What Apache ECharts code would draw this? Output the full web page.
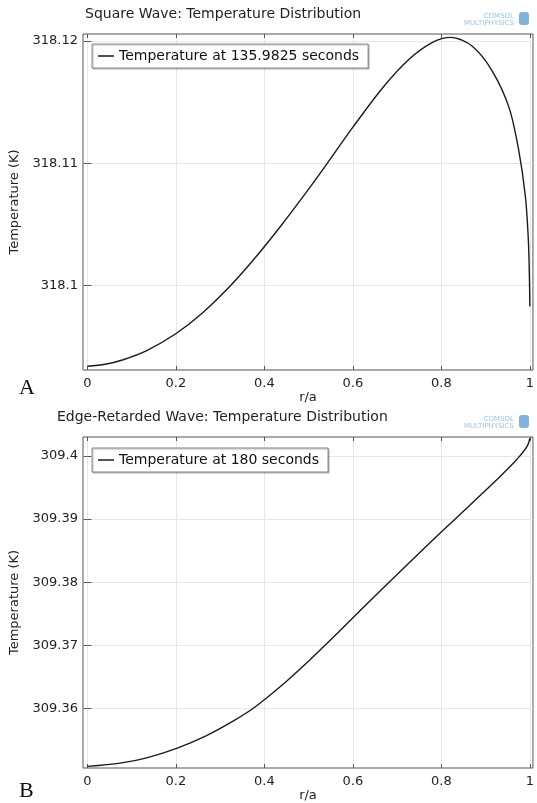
<!DOCTYPE html>
<html>
<head>
<meta charset="utf-8">
<script src="https://cdn.jsdelivr.net/npm/echarts@6/dist/echarts.min.js"></script>
<style>
  html, body { margin: 0; padding: 0; background: #fff; }
  #chart { width: 537px; height: 803px; }
</style>
</head>
<body>
<div id="chart"></div>
<script>
// panel A: square wave, t = 135.9825 s
const radiusA = [0, 0.04, 0.081, 0.134, 0.198, 0.258, 0.322, 0.382, 0.441, 0.502, 0.54, 0.6, 0.667, 0.727,
  0.78, 0.821, 0.87, 0.915, 0.953, 0.975, 0.99, 0.9966, 0.9989, 1.0];
const tempA = [318.09341, 318.09357, 318.09394, 318.09468, 318.09602, 318.0977, 318.09994, 318.1024, 318.10506,
  318.10799, 318.10989, 318.11295, 318.11616, 318.1185, 318.11988, 318.12029, 318.11957, 318.11754, 318.11455,
  318.11103, 318.10724, 318.10372, 318.10087, 318.09829];

// panel B: edge-retarded wave, t = 180 s
const radiusB = [0, 0.074, 0.134, 0.2016, 0.2692, 0.3291, 0.378, 0.4495, 0.502, 0.536, 0.5995, 0.6807, 0.7273,
  0.7801, 0.8362, 0.918, 0.9636, 0.975, 0.986, 0.994, 0.998, 1.0];
const tempB = [309.35085, 309.35137, 309.35221, 309.3537, 309.35573, 309.35801, 309.36021, 309.36429, 309.36765,
  309.36996, 309.37434, 309.37994, 309.38311, 309.38665, 309.39035, 309.39575, 309.39894, 309.39981, 309.40075,
  309.40155, 309.40225, 309.4028];

const xTicks = [0, 0.2, 0.4, 0.6, 0.8, 1];
const yTicksA = [318.1, 318.11, 318.12];
const yTicksB = [309.36, 309.37, 309.38, 309.39, 309.4];

const titleA = 'Square Wave: Temperature Distribution';
const titleB = 'Edge-Retarded Wave: Temperature Distribution';
const nameA = 'Temperature at 135.9825 seconds';
const nameB = 'Temperature at 180 seconds';

const FONT = 'DejaVu Sans';
const chart = echarts.init(document.getElementById('chart'));

function zip(xs, ys) {
  return xs.map((x, i) => [x, ys[i]]);
}

// bottom/left axes carry labels, top/right only ticks
function xAxisOf(grid, bottom) {
  return {
    type: 'value', gridIndex: grid, position: bottom ? 'bottom' : 'top',
    min: -0.01, max: 1.007,
    name: bottom ? 'r/a' : '', nameLocation: 'middle', nameGap: 21,
    nameTextStyle: { fontFamily: FONT, fontSize: 13, color: '#222' },
    axisLine: { show: false },
    axisTick: { show: true, inside: true, length: 4, customValues: xTicks, lineStyle: { color: '#555' } },
    axisLabel: { show: bottom, customValues: xTicks, margin: 7, fontFamily: FONT, fontSize: 13, color: '#222' },
    splitLine: { show: bottom, lineStyle: { color: '#e6e6e6', width: 1 } }
  };
}

function yAxisOf(grid, left, min, max, ticks) {
  return {
    type: 'value', gridIndex: grid, position: left ? 'left' : 'right',
    min: min, max: max, scale: true,
    name: left ? 'Temperature (K)' : '', nameLocation: 'middle', nameGap: 60, nameRotate: 90,
    nameTextStyle: { fontFamily: FONT, fontSize: 13, color: '#222' },
    axisLine: { show: false },
    axisTick: { show: true, inside: true, length: 4, customValues: ticks, lineStyle: { color: '#555' } },
    axisLabel: { show: left, customValues: ticks, margin: 5, fontFamily: FONT, fontSize: 13, color: '#222' },
    splitLine: { show: left, lineStyle: { color: '#e6e6e6', width: 1 } }
  };
}

function legendOf(name, top) {
  return {
    data: [name], left: 92, top: top, orient: 'horizontal',
    icon: 'rect', itemWidth: 16, itemHeight: 1.5,
    padding: [5, 9, 5, 6],
    backgroundColor: '#fff', borderColor: '#888', borderWidth: 1,
    shadowColor: 'rgba(0,0,0,0.3)', shadowOffsetX: 1, shadowOffsetY: 1, shadowBlur: 1,
    textStyle: { fontFamily: FONT, fontSize: 14, color: '#111' }
  };
}

function logo(y) {
  return [
    { type: 'text', right: 23, top: y, style: { text: 'COMSOL', fill: '#9cc5e2', font: '7px DejaVu Sans', textAlign: 'right' } },
    { type: 'text', right: 23, top: y + 7, style: { text: 'MULTIPHYSICS', fill: '#9cc5e2', font: '7px DejaVu Sans', textAlign: 'right' } },
    { type: 'rect', left: 519, top: y - 1, shape: { width: 10, height: 13, r: 3 }, style: { fill: '#7fb2dc' } }
  ];
}

const lineStyle = { color: '#1a1a1a', width: 1.4 };

const option = {
  animation: false,
  backgroundColor: '#fff',
  title: [
    { text: titleA, left: 85, top: 7, padding: 0, textStyle: { fontFamily: FONT, fontSize: 14, fontWeight: 'normal', color: '#222' } },
    { text: titleB, left: 57, top: 410, padding: 0, textStyle: { fontFamily: FONT, fontSize: 14, fontWeight: 'normal', color: '#222' } }
  ],
  legend: [legendOf(nameA, 44), legendOf(nameB, 448)],
  grid: [
    { left: 83, top: 34, width: 451, height: 336, show: true, borderColor: '#555', borderWidth: 1, backgroundColor: '#fff' },
    { left: 83, top: 437, width: 451, height: 333, show: true, borderColor: '#555', borderWidth: 1, backgroundColor: '#fff' }
  ],
  xAxis: [xAxisOf(0, true), xAxisOf(0, false), xAxisOf(1, true), xAxisOf(1, false)],
  yAxis: [
    yAxisOf(0, true, 318.0931, 318.12057, yTicksA),
    yAxisOf(0, false, 318.0931, 318.12057, yTicksA),
    yAxisOf(1, true, 309.3506, 309.403, yTicksB),
    yAxisOf(1, false, 309.3506, 309.403, yTicksB)
  ],
  series: [
    { name: nameA, type: 'line', xAxisIndex: 0, yAxisIndex: 0, data: zip(radiusA, tempA),
      smooth: 0.3, showSymbol: false, symbol: 'none', lineStyle: lineStyle, itemStyle: { color: '#1a1a1a' } },
    { name: nameB, type: 'line', xAxisIndex: 2, yAxisIndex: 2, data: zip(radiusB, tempB),
      smooth: 0.3, showSymbol: false, symbol: 'none', lineStyle: lineStyle, itemStyle: { color: '#1a1a1a' } }
  ],
  graphic: [
    { type: 'text', left: 19, top: 377, style: { text: 'A', fill: '#111', font: '22px "Liberation Serif"' } },
    { type: 'text', left: 19, top: 780, style: { text: 'B', fill: '#111', font: '22px "Liberation Serif"' } }
  ].concat(logo(13), logo(416))
};

chart.setOption(option);
</script>
</body>
</html>
